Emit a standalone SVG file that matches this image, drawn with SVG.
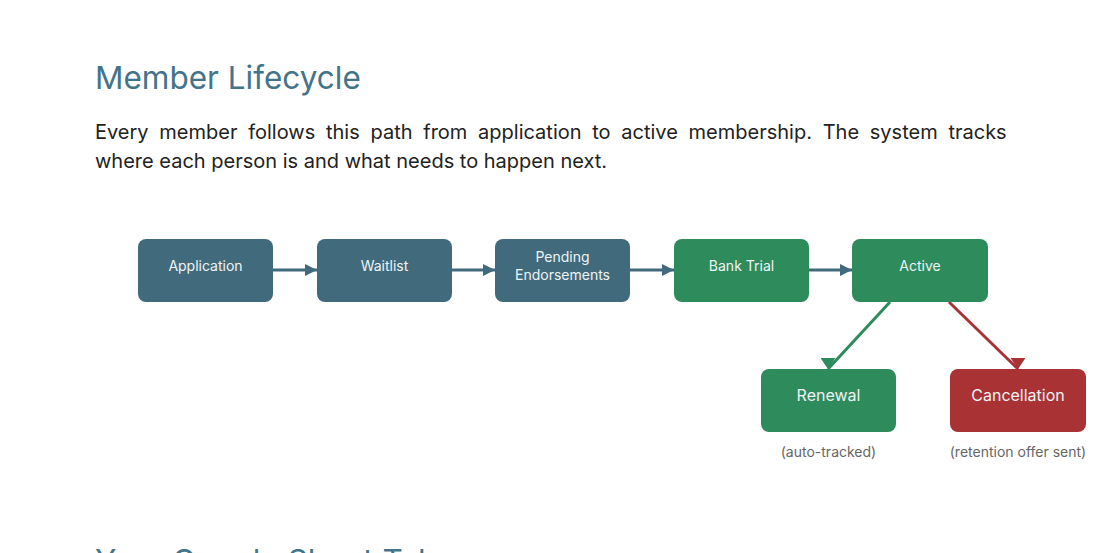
<svg xmlns="http://www.w3.org/2000/svg" width="1110" height="553" viewBox="0 0 1110 553">
<style>
.title{font-family:Inter,"Noto Sans",sans-serif;font-size:31.5px;fill:#43748a;}
.body{font-family:Inter,"Noto Sans",sans-serif;font-size:20px;fill:#222;}
.lbl{font-family:Inter,"Noto Sans",sans-serif;font-size:14px;fill:#eef3f4;text-anchor:middle;}
.lbl2{font-family:Inter,"Noto Sans",sans-serif;font-size:16px;fill:#eef3f4;text-anchor:middle;}
.cap{font-family:Inter,"Noto Sans",sans-serif;font-size:14px;fill:#666;text-anchor:middle;}
.blue{fill:#416b7d;}
.green{fill:#2e8b5c;}
.red{fill:#a83234;}
.c{fill:none;stroke-width:3;}
</style>
<defs>
<marker id="ah" viewBox="0 0 12 12" refX="12" refY="6" markerWidth="12" markerHeight="12" markerUnits="userSpaceOnUse" orient="auto"><path d="M0,0 L12,6 L0,12 Z" fill="#416b7d"/></marker>
<marker id="ag" viewBox="0 0 15 11" refX="7.5" refY="11" markerWidth="15" markerHeight="11" markerUnits="userSpaceOnUse" orient="0"><path d="M0,0 L15,0 L7.5,11 Z" fill="#2e8b5c"/></marker>
<marker id="ar" viewBox="0 0 15 11" refX="7.5" refY="11" markerWidth="15" markerHeight="11" markerUnits="userSpaceOnUse" orient="0"><path d="M0,0 L15,0 L7.5,11 Z" fill="#a83234"/></marker>
</defs>
<rect width="1110" height="553" fill="#fff"/>
<text class="title" x="95" y="89">Member Lifecycle</text>
<text class="body" x="95" y="139" word-spacing="5.1">Every member follows this path from application to active membership. The system tracks</text>
<text class="body" x="95" y="168">where each person is and what needs to happen next.</text>
<g id="connectors">
<line class="c" x1="273" y1="270" x2="317" y2="270" stroke="#416b7d" marker-end="url(#ah)"/>
<line class="c" x1="452" y1="270" x2="495" y2="270" stroke="#416b7d" marker-end="url(#ah)"/>
<line class="c" x1="630" y1="270" x2="674" y2="270" stroke="#416b7d" marker-end="url(#ah)"/>
<line class="c" x1="809" y1="270" x2="852" y2="270" stroke="#416b7d" marker-end="url(#ah)"/>
<line class="c" x1="890" y1="302" x2="828" y2="369" stroke="#2e8b5c" marker-end="url(#ag)"/>
<line class="c" x1="949" y1="302" x2="1018" y2="369" stroke="#a83234" marker-end="url(#ar)"/>
</g>
<g id="application"><rect class="blue" x="138" y="239" width="135" height="63" rx="8"/><text class="lbl" x="205.5" y="271">Application</text></g>
<g id="waitlist"><rect class="blue" x="317" y="239" width="135" height="63" rx="8"/><text class="lbl" x="384.5" y="271">Waitlist</text></g>
<g id="pending"><rect class="blue" x="495" y="239" width="135" height="63" rx="8"/><text class="lbl" x="562.5" y="262">Pending</text><text class="lbl" x="562.5" y="280">Endorsements</text></g>
<g id="banktrial"><rect class="green" x="674" y="239" width="135" height="63" rx="8"/><text class="lbl" x="741.5" y="271">Bank Trial</text></g>
<g id="active"><rect class="green" x="852" y="239" width="136" height="63" rx="8"/><text class="lbl" x="920" y="271">Active</text></g>
<g id="renewal"><rect class="green" x="761" y="369" width="135" height="63" rx="8"/><text class="lbl2" x="828.5" y="401">Renewal</text><text class="cap" x="828.5" y="457">(auto-tracked)</text></g>
<g id="cancellation"><rect class="red" x="950" y="369" width="136" height="63" rx="8"/><text class="lbl2" x="1018" y="401">Cancellation</text><text class="cap" x="1018" y="457">(retention offer sent)</text></g>
<text class="title" x="95" y="571.5">Your Google Sheet Tabs</text>
</svg>
